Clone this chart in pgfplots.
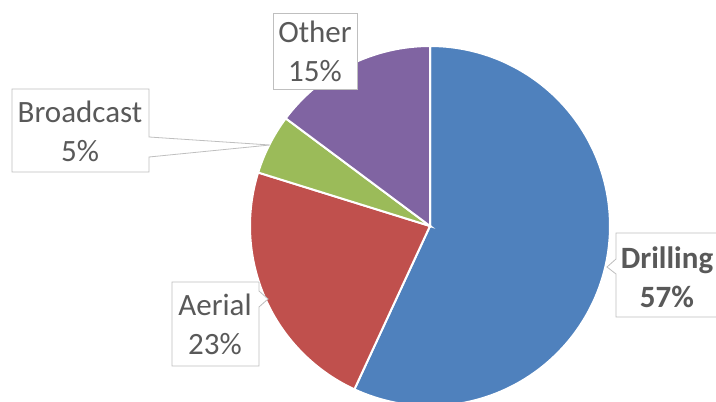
\documentclass[border=0pt]{standalone}
\usepackage{pgfplots}
\pgfplotsset{compat=1.18}
\usepackage{fontspec}
\setmainfont{Carlito}
\definecolor{cDrill}{HTML}{4F81BD}
\definecolor{cAer}{HTML}{C0504D}
\definecolor{cBro}{HTML}{9BBB59}
\definecolor{cOth}{HTML}{8064A2}
\definecolor{txt}{HTML}{595959}
\definecolor{bx}{HTML}{BFBFBF}
% shares in percent (labels show rounded values)
\def\pDrill{56.9}\def\pAer{22.9}\def\pBro{5.4}\def\pOth{14.8}
\tikzset{lbl/.style={font=\fontsize{31}{39}\selectfont, text=txt, align=center, inner sep=0pt}}
\begin{document}
\begin{tikzpicture}
\pgfmathsetmacro{\aA}{90}
\pgfmathsetmacro{\aB}{\aA-3.6*\pDrill}
\pgfmathsetmacro{\aC}{\aB-3.6*\pAer}
\pgfmathsetmacro{\aD}{\aC-3.6*\pBro}
\pgfmathsetmacro{\aE}{\aD-3.6*\pOth}
\begin{axis}[x=1pt,y=1pt,xmin=0,xmax=716,ymin=0,ymax=402,
  hide axis, clip=true, scale only axis]
\addplot[fill=cDrill, draw=white, line width=2pt, domain=\aA:\aB, samples=120, variable=\t]
  ({430+180*cos(t)},{176+180*sin(t)}) -- (axis cs:430,176) -- cycle;
\addplot[fill=cAer, draw=white, line width=2pt, domain=\aB:\aC, samples=60, variable=\t]
  ({430+180*cos(t)},{176+180*sin(t)}) -- (axis cs:430,176) -- cycle;
\addplot[fill=cBro, draw=white, line width=2pt, domain=\aC:\aD, samples=20, variable=\t]
  ({430+180*cos(t)},{176+180*sin(t)}) -- (axis cs:430,176) -- cycle;
\addplot[fill=cOth, draw=white, line width=2pt, domain=\aD:\aE, samples=40, variable=\t]
  ({430+180*cos(t)},{176+180*sin(t)}) -- (axis cs:430,176) -- cycle;
% label boxes
\draw[bx, fill=white, line width=0.8pt] (axis cs:273,389) rectangle (axis cs:357,313);
\node[lbl] at (axis cs:315,351) {Other\\15\%};
\draw[bx, fill=white, line width=0.8pt] (axis cs:12,313) -- (axis cs:149,313) -- (axis cs:149,265)
  -- (axis cs:270,257) -- (axis cs:149,245) -- (axis cs:149,230) -- (axis cs:12,230) -- cycle;
\node[lbl] at (axis cs:80,271) {Broadcast\\5\%};
\draw[bx, fill=white, line width=0.8pt] (axis cs:172,120) -- (axis cs:259,120) -- (axis cs:259,111)
  -- (axis cs:268,103) -- (axis cs:259,95) -- (axis cs:259,36) -- (axis cs:172,36) -- cycle;
\node[lbl] at (axis cs:215,78) {Aerial\\23\%};
\draw[bx, fill=white, line width=0.8pt] (axis cs:616,169) -- (axis cs:717,169) -- (axis cs:717,85)
  -- (axis cs:616,85) -- (axis cs:616,128) -- (axis cs:607,135) -- (axis cs:616,143) -- cycle;
\node[lbl, font=\fontsize{31}{39}\selectfont\bfseries] at (axis cs:667,125) {Drilling\\57\%};
\end{axis}
\pgfresetboundingbox
\useasboundingbox (current axis.south west) rectangle (current axis.north east);
\end{tikzpicture}
\end{document}
